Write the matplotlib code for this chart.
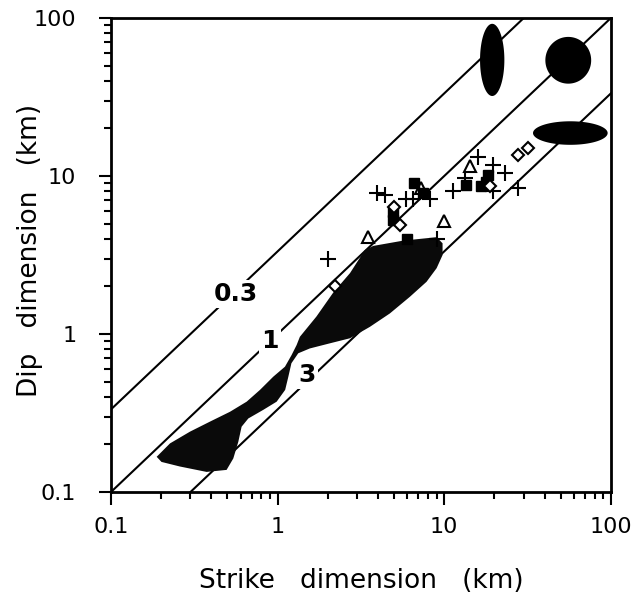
import numpy as np
import matplotlib
matplotlib.use("Agg")
import matplotlib.pyplot as plt

# strike / dip ratio lines
ratios = [0.3, 1, 3]
ratio_labels = ["0.3", "1", "3"]
label_x = [0.56, 0.90, 1.50]
label_y = [1.80, 0.90, 0.55]

# individual events (km)
plus_x = [2.0, 3.95, 4.4, 5.9, 6.5, 8.2, 9.0, 11.3, 13.3, 16.0, 19.6, 23.1, 19.6, 27.7]
plus_y = [3.0, 7.85, 7.55, 7.1, 7.1, 7.2, 4.0, 8.0, 9.7, 13.2, 11.7, 10.5, 8.0, 8.4]
tri_x = [3.5, 10.0, 14.3, 7.3]
tri_y = [4.1, 5.2, 11.5, 8.4]
sq_x = [6.6, 6.0, 13.6, 16.7, 18.4, 17.9, 7.5, 4.95, 4.95]
sq_y = [9.0, 4.0, 8.8, 8.6, 10.1, 9.2, 7.8, 5.3, 5.9]
dia_x = [2.2, 5.4, 18.8, 27.7, 31.9, 5.0]
dia_y = [2.0, 4.9, 8.6, 13.5, 15.0, 6.4]

# large ruptures drawn as ellipses: centre strike, centre dip, width / height in decades
ell_x = [19.4, 55.5, 57.1]
ell_y = [54.3, 54.0, 18.7]
ell_w = [0.146, 0.275, 0.448]
ell_h = [0.457, 0.296, 0.149]

# envelope of small events
blob_x = [0.188, 0.226, 0.298, 0.393, 0.518, 0.652, 0.784, 0.942, 1.107, 1.213, 1.30, 1.36,
          1.71, 2.15, 2.72, 3.34, 3.75, 5.68, 9.0, 9.77, 9.77, 9.0, 7.83, 6.22, 4.72,
          3.58, 2.72, 2.06, 1.56, 1.33, 1.21, 1.16, 1.11, 0.987, 0.82, 0.667, 0.608, 0.581,
          0.542, 0.494, 0.375, 0.259, 0.201]
blob_y = [0.167, 0.203, 0.241, 0.279, 0.322, 0.373, 0.443, 0.537, 0.621, 0.736, 0.851, 0.96,
          1.29, 1.82, 2.43, 3.40, 3.61, 3.90, 4.10, 3.75, 3.16, 2.61, 2.14, 1.72, 1.35,
          1.11, 0.94, 0.873, 0.81, 0.755, 0.653, 0.537, 0.443, 0.373, 0.331, 0.292, 0.259, 0.208,
          0.163, 0.138, 0.134, 0.145, 0.155]

plt.rcParams['font.family'] = ['DejaVu Sans']

fig = plt.figure(figsize=(6.36, 5.96), dpi=100)
ax = fig.add_axes([0.1745, 0.1745, 0.786, 0.7953])
ax.set_xscale("log")
ax.set_yscale("log")
ax.set_xlim(0.1, 100)
ax.set_ylim(0.1, 100)

xx = np.array([0.01, 1000])
for r in ratios:
    ax.plot(xx, xx / r, color="k", lw=1.5, zorder=1)
for lab, lx, ly in zip(ratio_labels, label_x, label_y):
    ax.text(lx, ly, lab, ha="center", va="center", fontsize=18, fontweight="bold",
            bbox=dict(facecolor="white", edgecolor="none", pad=1.5), zorder=4)

ax.fill(blob_x, blob_y, color="#0a0a0a", lw=0, zorder=2)

t = np.linspace(0, 2 * np.pi, 100)
for cx, cy, w, h in zip(ell_x, ell_y, ell_w, ell_h):
    ex = 10 ** (np.log10(cx) + w / 2 * np.cos(t))
    ey = 10 ** (np.log10(cy) + h / 2 * np.sin(t))
    ax.fill(ex, ey, color="k", lw=0, zorder=2)

ax.plot(plus_x, plus_y, "+", color="k", ms=12, mew=1.5, zorder=3)
ax.plot(tri_x, tri_y, "^", mfc="white", mec="k", ms=8, mew=1.5, zorder=3)
ax.plot(sq_x, sq_y, "s", color="k", ms=7, zorder=3)
ax.plot(dia_x, dia_y, "D", mfc="white", mec="k", ms=6, mew=1.5, zorder=3)

ax.set_xticks([0.1, 1, 10, 100])
ax.set_xticklabels(["0.1", "1", "10", "100"])
ax.set_yticks([0.1, 1, 10, 100])
ax.set_yticklabels(["0.1", "1", "10", "100"])
ax.tick_params(which="major", direction="out", length=9, width=1.5, labelsize=16)
ax.tick_params(axis="x", which="major", pad=9)
ax.tick_params(axis="y", which="major", pad=16)
ax.tick_params(which="minor", direction="out", length=5, width=1.5)
ax.tick_params(top=False, right=False, which="both")
for s in ax.spines.values():
    s.set_linewidth(2)

ax.set_xlabel("Strike   dimension   (km)", fontsize=19, labelpad=22)
ax.set_ylabel("Dip   dimension   (km)", fontsize=19)
ax.yaxis.set_label_coords(-0.135, 0.51)

fig.savefig("out.png", dpi=100)
